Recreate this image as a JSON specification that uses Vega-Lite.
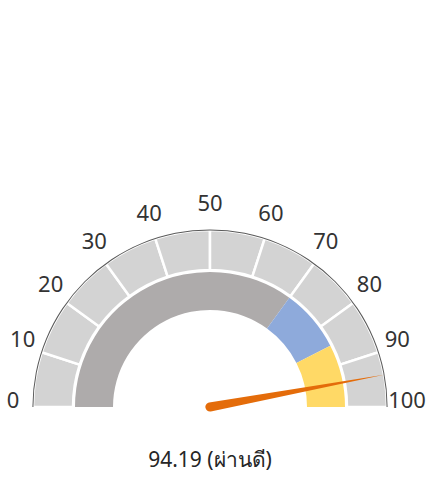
{
  "$schema": "https://vega.github.io/schema/vega-lite/v6.json",
  "width": 420,
  "height": 407,
  "padding": {"left": 0, "top": 0, "right": 0, "bottom": 12},
  "background": "white",
  "view": {"stroke": null},
  "config": {"font": "Noto Sans"},
  "title": {
    "text": "94.19 (ผ่านดี)",
    "orient": "bottom",
    "anchor": "middle",
    "offset": 38,
    "fontSize": 21,
    "fontWeight": "normal",
    "font": "Noto Sans",
    "color": "#262626"
  },
  "datasets": {
    "segments": [
      {"start": 0, "end": 10}, {"start": 10, "end": 20}, {"start": 20, "end": 30},
      {"start": 30, "end": 40}, {"start": 40, "end": 50}, {"start": 50, "end": 60},
      {"start": 60, "end": 70}, {"start": 70, "end": 80}, {"start": 80, "end": 90},
      {"start": 90, "end": 100}
    ],
    "bands": [
      {"band": "grey", "start": 0, "end": 70},
      {"band": "blue", "start": 70, "end": 85},
      {"band": "yellow", "start": 85, "end": 100}
    ],
    "outline": [{"start": 0, "end": 100}],
    "ticks": [
      {"v": 0}, {"v": 10}, {"v": 20}, {"v": 30}, {"v": 40}, {"v": 50},
      {"v": 60}, {"v": 70}, {"v": 80}, {"v": 90}, {"v": 100}
    ],
    "needle": [{"value": 94.19}]
  },
  "layer": [
    {
      "data": {"name": "segments"},
      "mark": {"type": "arc", "radius": 177, "radius2": 137, "fill": "#d3d3d3", "stroke": "white", "strokeWidth": 2.5},
      "encoding": {
        "theta": {"field": "start", "type": "quantitative", "scale": {"domain": [0, 100], "range": [-1.5707963, 1.5707963]}},
        "theta2": {"field": "end"},
        "y": {"datum": 0, "type": "quantitative", "scale": {"domain": [0, 1]}, "axis": null}
      }
    },
    {
      "data": {"name": "outline"},
      "mark": {"type": "arc", "radius": 177.6, "radius2": 176.6, "fill": "#5a5a5a"},
      "encoding": {
        "theta": {"field": "start", "type": "quantitative", "scale": {"domain": [0, 100], "range": [-1.5707963, 1.5707963]}},
        "theta2": {"field": "end"},
        "y": {"datum": 0, "type": "quantitative", "scale": {"domain": [0, 1]}, "axis": null}
      }
    },
    {
      "data": {"name": "bands"},
      "mark": {"type": "arc", "radius": 135, "radius2": 97},
      "encoding": {
        "theta": {"field": "start", "type": "quantitative", "scale": {"domain": [0, 100], "range": [-1.5707963, 1.5707963]}},
        "theta2": {"field": "end"},
        "color": {"field": "band", "type": "nominal", "scale": {"domain": ["grey", "blue", "yellow"], "range": ["#aeabab", "#8eaadb", "#ffd966"]}, "legend": null},
        "y": {"datum": 0, "type": "quantitative", "scale": {"domain": [0, 1]}, "axis": null}
      }
    },
    {
      "data": {"name": "ticks"},
      "mark": {"type": "text", "radius": 197, "dy": -6, "fontSize": 22, "font": "Noto Sans", "color": "#333333", "align": "center", "baseline": "middle"},
      "encoding": {
        "theta": {"field": "v", "type": "quantitative", "scale": {"domain": [0, 100], "range": [-1.5707963, 1.5707963]}},
        "text": {"field": "v", "type": "quantitative"},
        "y": {"datum": 0, "type": "quantitative", "scale": {"domain": [0, 1]}, "axis": null}
      }
    },
    {
      "data": {"name": "needle"},
      "mark": {
        "type": "point",
        "filled": true,
        "opacity": 1,
        "fill": "#e46c0a",
        "strokeWidth": 0,
        "size": 125316,
        "shape": "M -0.026 0 L 0 -1 L 0.026 0 A 0.026 0.026 0 0 1 -0.026 0 Z"
      },
      "encoding": {
        "angle": {"field": "value", "type": "quantitative", "scale": {"domain": [0, 100], "range": [-90, 90]}},
        "y": {"datum": 0, "type": "quantitative", "scale": {"domain": [0, 1]}, "axis": null}
      }
    }
  ]
}
